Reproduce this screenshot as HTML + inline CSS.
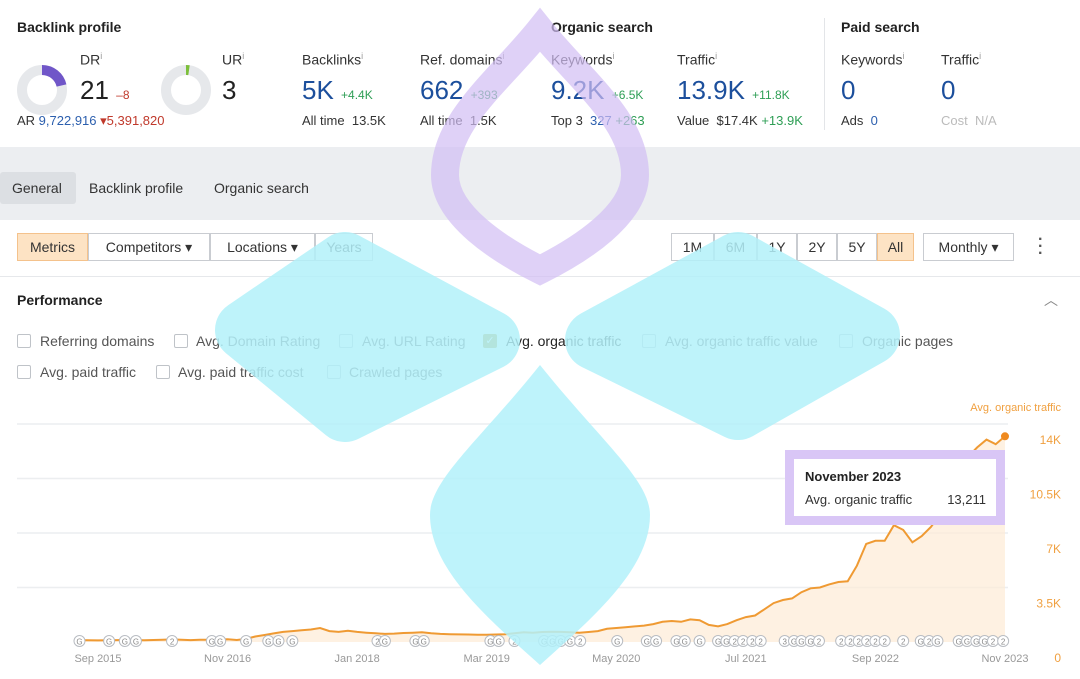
<!DOCTYPE html>
<html><head><meta charset="utf-8">
<style>
*{box-sizing:border-box;margin:0;padding:0}
body{width:1080px;height:679px;overflow:hidden;background:#fff;font-family:"Liberation Sans",sans-serif;color:#333;position:relative}
.a{position:absolute;white-space:nowrap}
.h{font-weight:bold;font-size:14px;color:#222}
.lbl{font-size:14px;color:#333}
.big{font-size:26px;color:#1c4f9c}
.sm{font-size:12px}
.g{color:#2e9e55}.r{color:#c0392b}.b{color:#2c5fae}
sup{font-size:9px;color:#999}
.btn{position:absolute;top:233px;height:28px;border:1px solid #c9ccd1;font-size:14px;line-height:26px;text-align:center;background:#fff;color:#333}
.cb{position:absolute;width:14px;height:14px;border:1px solid #bfc3c8;border-radius:2px;background:#fff}
.ct{position:absolute;font-size:14px;color:#555;white-space:nowrap}
</style></head><body>
<div class="a h" style="left:17px;top:19px">Backlink profile</div>
<svg class="a" style="left:17px;top:65px" width="50" height="50"><circle cx="25" cy="25" r="20" fill="none" stroke="#e6e8eb" stroke-width="10"/><path d="M25 5 A20 20 0 0 1 44.5 20.5" fill="none" stroke="#7056c8" stroke-width="10"/></svg>
<div class="a lbl" style="left:80px;top:51px">DR<sup>i</sup></div>
<div class="a" style="left:80px;top:75px;font-size:26px;color:#222">21 <span class="sm r">–8</span></div>
<div class="a" style="left:17px;top:113px;font-size:13px">AR <span class="b">9,722,916</span> <span class="r">▾5,391,820</span></div>
<svg class="a" style="left:161px;top:65px" width="50" height="50"><circle cx="25" cy="25" r="20" fill="none" stroke="#e6e8eb" stroke-width="10"/><path d="M25 5 A20 20 0 0 1 28 5.2" fill="none" stroke="#7cbf3a" stroke-width="10"/></svg>
<div class="a lbl" style="left:222px;top:51px">UR<sup>i</sup></div>
<div class="a" style="left:222px;top:75px;font-size:26px;color:#222">3</div>
<div class="a lbl" style="left:302px;top:51px">Backlinks<sup>i</sup></div>
<div class="a big" style="left:302px;top:75px">5K <span class="sm g">+4.4K</span></div>
<div class="a" style="left:302px;top:113px;font-size:13px">All time&nbsp; 13.5K</div>
<div class="a lbl" style="left:420px;top:51px">Ref. domains<sup>i</sup></div>
<div class="a big" style="left:420px;top:75px">662 <span class="sm g">+393</span></div>
<div class="a" style="left:420px;top:113px;font-size:13px">All time&nbsp; 1.5K</div>
<div class="a h" style="left:551px;top:19px">Organic search</div>
<div class="a lbl" style="left:551px;top:51px">Keywords<sup>i</sup></div>
<div class="a big" style="left:551px;top:75px">9.2K <span class="sm g">+6.5K</span></div>
<div class="a" style="left:551px;top:113px;font-size:13px">Top 3&nbsp; <span class="b">327</span> <span class="g">+263</span></div>
<div class="a lbl" style="left:677px;top:51px">Traffic<sup>i</sup></div>
<div class="a big" style="left:677px;top:75px">13.9K <span class="sm g">+11.8K</span></div>
<div class="a" style="left:677px;top:113px;font-size:13px">Value&nbsp; $17.4K <span class="g">+13.9K</span></div>
<div class="a" style="left:824px;top:18px;width:1px;height:112px;background:#e3e5e8"></div>
<div class="a h" style="left:841px;top:19px">Paid search</div>
<div class="a lbl" style="left:841px;top:51px">Keywords<sup>i</sup></div>
<div class="a big" style="left:841px;top:75px">0</div>
<div class="a" style="left:841px;top:113px;font-size:13px">Ads&nbsp; <span class="b">0</span></div>
<div class="a lbl" style="left:941px;top:51px">Traffic<sup>i</sup></div>
<div class="a big" style="left:941px;top:75px">0</div>
<div class="a" style="left:941px;top:113px;font-size:13px;color:#bbb">Cost&nbsp; N/A</div>

<div class="a" style="left:0;top:147px;width:1080px;height:73px;background:#eceef1"></div>
<div class="a" style="left:0;top:172px;width:76px;height:32px;background:#dcdfe3;border-radius:3px;font-size:14px;line-height:32px;padding-left:12px">General</div>
<div class="a" style="left:89px;top:180px;font-size:14px">Backlink profile</div>
<div class="a" style="left:214px;top:180px;font-size:14px">Organic search</div>

<div class="btn" style="left:17px;width:71px;background:#fde3c4;border-color:#f4c28c">Metrics</div>
<div class="btn" style="left:88px;width:122px">Competitors ▾</div>
<div class="btn" style="left:210px;width:105px">Locations ▾</div>
<div class="btn" style="left:315px;width:58px">Years</div>
<div class="btn" style="left:671px;width:43px">1M</div>
<div class="btn" style="left:714px;width:43px">6M</div>
<div class="btn" style="left:757px;width:40px">1Y</div>
<div class="btn" style="left:797px;width:40px">2Y</div>
<div class="btn" style="left:837px;width:40px">5Y</div>
<div class="btn" style="left:877px;width:37px;background:#fde3c4;border-color:#f4c28c">All</div>
<div class="btn" style="left:923px;width:91px">Monthly ▾</div>
<div class="a" style="left:1038px;top:236px;font-size:16px;font-weight:bold;line-height:7px;color:#555">·<br>·<br>·</div>
<div class="a" style="left:0;top:276px;width:1080px;height:1px;background:#e6e8eb"></div>
<div class="a h" style="left:17px;top:292px">Performance</div>
<div class="a" style="left:1044px;top:290px;font-size:14px;color:#888">︿</div>

<div class="cb" style="left:17px;top:334px"></div><div class="ct" style="left:40px;top:333px">Referring domains</div>
<div class="cb" style="left:174px;top:334px"></div><div class="ct" style="left:196px;top:333px">Avg. Domain Rating</div>
<div class="cb" style="left:339px;top:334px"></div><div class="ct" style="left:362px;top:333px">Avg. URL Rating</div>
<div class="cb" style="left:483px;top:334px;background:#b59a3c;border-color:#b59a3c;color:#fff;font-size:11px;line-height:12px;text-align:center">✓</div><div class="ct" style="left:506px;top:333px;color:#222">Avg. organic traffic</div>
<div class="cb" style="left:642px;top:334px"></div><div class="ct" style="left:665px;top:333px">Avg. organic traffic value</div>
<div class="cb" style="left:839px;top:334px"></div><div class="ct" style="left:862px;top:333px">Organic pages</div>
<div class="cb" style="left:17px;top:365px"></div><div class="ct" style="left:40px;top:364px">Avg. paid traffic</div>
<div class="cb" style="left:156px;top:365px"></div><div class="ct" style="left:178px;top:364px">Avg. paid traffic cost</div>
<div class="cb" style="left:327px;top:365px"></div><div class="ct" style="left:349px;top:364px">Crawled pages</div>

<svg id="chart" class="a" style="left:0;top:0" width="1080" height="679"></svg>

<svg class="a" style="left:0;top:0;pointer-events:none" width="1080" height="679">
<g fill="#b3f1fa" opacity="0.85" stroke="#b3f1fa" stroke-width="60" stroke-linejoin="round">
<polygon points="345,262 490,340 345,412 245,330"/>
<polygon points="738,262 870,335 738,410 595,340"/>
</g>
<path d="M540 365 C600 440 650 480 650 515 C650 570 590 620 540 665 C490 620 430 570 430 515 C430 480 480 440 540 365Z" fill="#b3f1fa" opacity="0.85"/>
<path d="M540 30 C580 80 635 120 635 175 C635 215 580 250 540 270 C500 250 445 215 445 175 C445 120 500 80 540 30Z" fill="none" stroke="#d2bdf4" stroke-width="28" opacity="0.7"/>
</svg>

<div class="a" style="left:785px;top:450px;width:220px;height:75px;background:#fff;border:9px solid #d9c6f6">
<div class="a" style="left:11px;top:10px;font-size:13px;font-weight:bold;color:#222">November 2023</div>
<div class="a" style="left:11px;top:33px;font-size:13px;color:#333">Avg. organic traffic</div>
<div class="a" style="right:10px;top:33px;font-size:13px;color:#333">13,211</div>
</div>

<script>
const startMonth = -2; // Jul 2015 (0 = Sep 2015)
const traffic = [120,110,100,110,120,130,120,110,130,150,170,150,120,140,150,160,
180,130,200,350,450,550,650,700,750,800,900,700,650,720,
650,600,560,520,540,580,600,620,560,520,500,490,480,470,
470,480,500,560,620,600,640,660,650,620,600,640,700,850,
900,950,1000,1050,1150,1300,1350,1300,1450,1400,1100,1000,1150,1400,
1600,1700,2100,2500,2700,2800,3200,3450,3500,3700,3850,3900,4900,6300,
6500,6500,7500,7200,6400,6800,7400,8200,10000,11000,11900,12500,13000,12700,13211];
const yTicks = [0,3500,7000,10500,14000];
const yTickLabels = ["0","3.5K","7K","10.5K","14K"];
const xTickMonths = [0,14,28,42,56,70,84,98];
const xTickLabels = ["Sep 2015","Nov 2016","Jan 2018","Mar 2019","May 2020","Jul 2021","Sep 2022","Nov 2023"];
const eventMonths = [-2,1.2,2.9,4.1,8,12.3,13.2,16,18.4,19.5,21,30.2,31,34.3,35.2,42.4,43.3,45,48.2,49.1,50,51,52.1,56.1,59.3,60.3,62.5,63.4,65,67,67.9,68.8,69.7,70.7,71.6,74.2,75.2,76,77,77.9,80.3,81.3,82.2,83.1,84,85,87,88.9,89.8,90.7,93,93.9,94.9,95.8,96.7,97.8];
const eventLabels = ["G","G","G","G","2","G","G","G","G","G","G","2","G","G","G","G","G","2","G","G","G","G","2","G","G","G","G","G","G","G","G","2","2","2","2","3","G","G","G","2","2","2","2","2","2","2","2","G","2","G","G","G","G","G","2","2"];
const NS="http://www.w3.org/2000/svg";
const svg=document.getElementById('chart');
const x=m=>98+m*9.255;
const y=v=>642-v/14000*218;
function mk(t,a){const e=document.createElementNS(NS,t);for(const k in a)e.setAttribute(k,a[k]);svg.appendChild(e);return e;}
yTicks.forEach((v,i)=>{
  if(v>0){const l=mk('line',{x1:17,x2:1008,y1:y(v),y2:y(v),stroke:'#eceef0','stroke-width':1.5});
  
  }
  const t=mk('text',{x:1061,y:y(v)+20,'text-anchor':'end','font-size':12,fill:'#f0a040','font-family':'Liberation Sans'});
  t.textContent=yTickLabels[i];
  
  
});
const tt=mk('text',{x:1061,y:411,'text-anchor':'end','font-size':11,fill:'#f0a040','font-family':'Liberation Sans'});
tt.textContent='Avg. organic traffic';


xTickMonths.forEach((m,i)=>{
  const t=mk('text',{x:x(m),y:662,'text-anchor':'middle','font-size':11,fill:'#999','font-family':'Liberation Sans'});
  t.textContent=xTickLabels[i];
  
  
});
let pts=traffic.map((v,i)=>x(startMonth+i).toFixed(1)+','+y(v).toFixed(1));
const area=mk('polygon',{points:pts.join(' ')+' '+x(startMonth+traffic.length-1)+',642 '+x(startMonth)+',642',fill:'#fdebd6',opacity:0.7});


const line=mk('polyline',{points:pts.join(' '),fill:'none',stroke:'#ef9a33','stroke-width':2});


const last=traffic.length-1;
const dot=mk('circle',{cx:x(startMonth+last),cy:y(traffic[last]),r:4,fill:'#ef8a1f'});


eventMonths.forEach((m,i)=>{
  const c=mk('circle',{cx:x(m),cy:641,r:5.5,fill:'#fff',stroke:'#b8bcc2','stroke-width':1});
  
  
  const t=mk('text',{x:x(m),y:644.5,'text-anchor':'middle','font-size':8,fill:'#888','font-family':'Liberation Sans'});
  t.textContent=eventLabels[i]||'G';
  
  
});
</script>
</body></html>
